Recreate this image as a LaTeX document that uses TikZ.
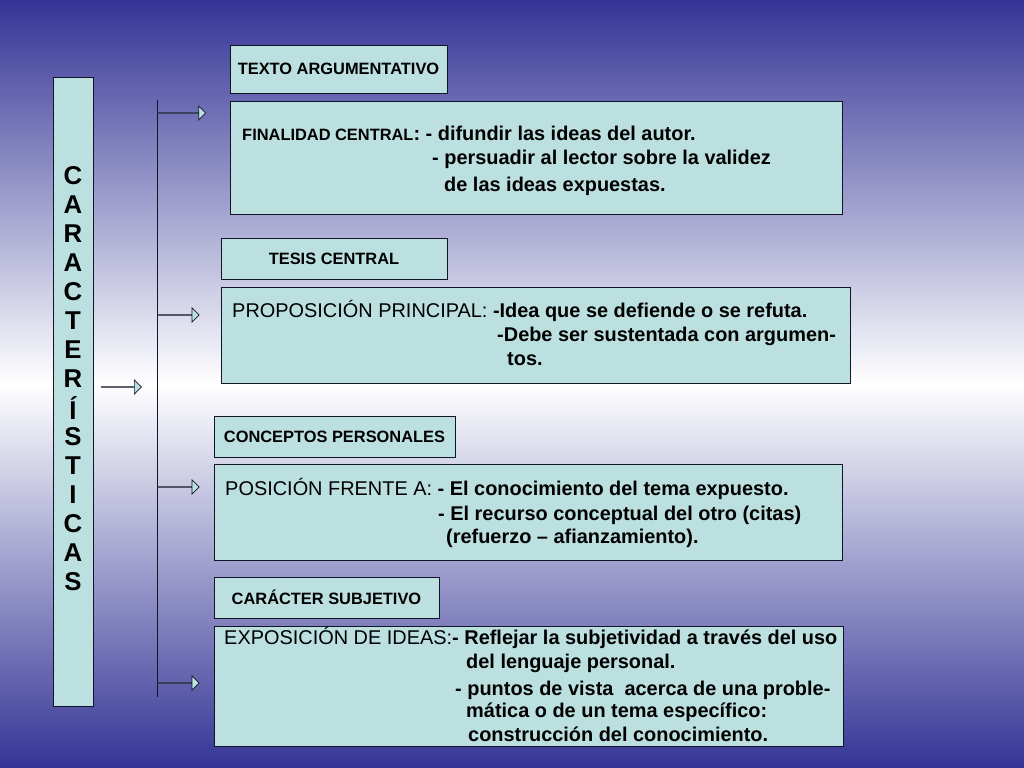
\documentclass[tikz,border=0pt]{standalone}
\usepackage{fontspec}
\setmainfont{Liberation Sans}
\usetikzlibrary{shapes.arrows}
\definecolor{bg_blue}{RGB}{52, 52, 150}
\definecolor{box_cyan}{RGB}{188, 224, 224}
\definecolor{line_dark}{RGB}{20, 20, 40}

\begin{document}
\begin{tikzpicture}[
        x=0.03cm, y=-0.03cm,
        box/.style={draw=line_dark, fill=box_cyan, line width=0.8pt},
        label/.style={font=\fontsize{14}{16}\selectfont\bfseries},
        line/.style={anchor=base west, inner sep=0pt, font=\fontsize{17}{20}\selectfont\bfseries},
        arrow/.style={single arrow, draw=line_dark, fill=box_cyan, line width=0.6pt,
            minimum height=1.25cm, minimum width=0.42cm, single arrow head extend=0.18cm,
            inner sep=0pt, anchor=west}
    ]
    % background
    \fill[top color=bg_blue, bottom color=bg_blue, middle color=white] (0,0) rectangle (1024,768);
    \useasboundingbox (0,0) rectangle (1024,768);

    % left column
    \draw[box] (53,77) rectangle (93,706);
    \foreach \ch [count=\i] in {C,A,R,A,C,T,E,R,Í,S,T,I,C,A,S}
        \node[font=\fontsize{22}{24}\selectfont\bfseries, inner sep=0pt] (letter\i) at (73,147+29*\i) {\ch};
    \node[arrow, minimum height=1.2cm] (mainarrow) at (101,387) {};

    % bracket line
    \coordinate (top) at (157,100);
    \coordinate (bottom) at (157,697);
    \draw[line_dark, line width=0.8pt] (top) -- (bottom);
    \node[arrow, minimum height=1.45cm] (arrowA) at (157,113) {};
    \node[arrow] (arrowB) at (157,315) {};
    \node[arrow] (arrowC) at (157,487) {};
    \node[arrow] (arrowD) at (157,683) {};

    % headings
    \draw[box] (230,45) rectangle node[label] (texto) {TEXTO ARGUMENTATIVO} (447,93);
    \draw[box] (221,238) rectangle node[label] (tesis) {TESIS CENTRAL} (447,279);
    \draw[box] (214,416) rectangle node[label] (conceptos) {CONCEPTOS PERSONALES} (455,457);
    \draw[box] (214,577) rectangle node[label] (caracter) {CARÁCTER SUBJETIVO} (439,618);

    % contents
    \draw[box] (230,101) rectangle (842,214);
    \node[line] (fin1) at (242,141) {{\fontsize{14}{16}\selectfont FINALIDAD CENTRAL}: - difundir las ideas del autor.};
    \node[line] (fin2) at (432,165) {- persuadir al lector sobre la validez};
    \node[line] (fin3) at (444,192) {de las ideas expuestas.};

    \draw[box] (221,287) rectangle (850,383);
    \node[line] (prop1) at (232,318) {{\mdseries PROPOSICIÓN PRINCIPAL:} -Idea que se defiende o se refuta.};
    \node[line] (prop2) at (497,342) {-Debe ser sustentada con argumen-};
    \node[line] (prop3) at (507,366) {tos.};

    \draw[box] (214,464) rectangle (842,560);
    \node[line] (pos1) at (225,496) {{\mdseries POSICIÓN FRENTE A:} - El conocimiento del tema expuesto.};
    \node[line] (pos2) at (438,520) {- El recurso conceptual del otro (citas)};
    \node[line] (pos3) at (446,544) {(refuerzo – afianzamiento).};

    \draw[box] (214,626) rectangle (843,746);
    \node[line] (exp1) at (224,644) {{\mdseries EXPOSICIÓN DE IDEAS:}- Reflejar la subjetividad a través del uso};
    \node[line] (exp2) at (466,668) {del lenguaje personal.};
    \node[line] (exp3) at (455,695) {- puntos de vista\ \ acerca de una proble-};
    \node[line] (exp4) at (466,717) {mática o de un tema específico:};
    \node[line] (exp5) at (468,741) {construcción del conocimiento.};
\end{tikzpicture}
\end{document}
